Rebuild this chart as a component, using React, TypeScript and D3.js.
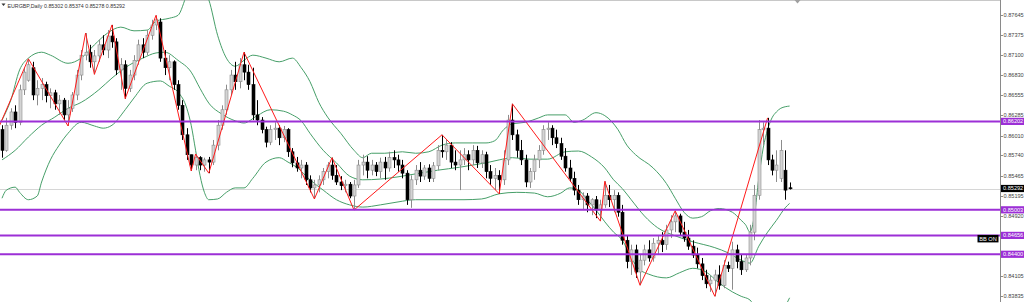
import React from "react";
import * as d3 from "d3";

const W = 1024;
const H = 302;
const PLOT_RIGHT = 1000;

// EURGBP Daily candles (oldest -> newest)
const openP = [
  0.8609, 0.8581, 0.8615, 0.8633, 0.8619, 0.8663, 0.8676, 0.8693, 0.8656, 0.8665,
  0.8670, 0.8655, 0.8659, 0.8644, 0.8649, 0.8629, 0.8638, 0.8656, 0.8683, 0.8710,
  0.8714, 0.8701, 0.8709, 0.8724, 0.8717, 0.8736, 0.8728, 0.8690, 0.8697, 0.8665,
  0.8683, 0.8703, 0.8724, 0.8714, 0.8737, 0.8751, 0.8755, 0.8706, 0.8693, 0.8701,
  0.8670, 0.8642, 0.8602, 0.8575, 0.8561, 0.8571, 0.8561, 0.8568, 0.8565, 0.8588,
  0.8615, 0.8636, 0.8663, 0.8683, 0.8674, 0.8697, 0.8687, 0.8670, 0.8629, 0.8622,
  0.8609, 0.8592, 0.8609, 0.8611, 0.8598, 0.8609, 0.8579, 0.8564, 0.8557, 0.8561,
  0.8541, 0.8530, 0.8534, 0.8541, 0.8552, 0.8561, 0.8547, 0.8538, 0.8533, 0.8535,
  0.8519, 0.8534, 0.8561, 0.8565, 0.8554, 0.8561, 0.8552, 0.8565, 0.8557, 0.8571,
  0.8568, 0.8561, 0.8550, 0.8514, 0.8541, 0.8554, 0.8546, 0.8557, 0.8543, 0.8560,
  0.8581, 0.8579, 0.8588, 0.8565, 0.8561, 0.8568, 0.8575, 0.8568, 0.8581, 0.8564,
  0.8575, 0.8552, 0.8543, 0.8547, 0.8541, 0.8568, 0.8622, 0.8602, 0.8581, 0.8568,
  0.8538, 0.8552, 0.8568, 0.8581, 0.8609, 0.8611, 0.8598, 0.8590, 0.8573, 0.8557,
  0.8543, 0.8527, 0.8514, 0.8519, 0.8507, 0.8514, 0.8500, 0.8507, 0.8520, 0.8514,
  0.8520, 0.8497, 0.8459, 0.8430, 0.8446, 0.8416, 0.8432, 0.8446, 0.8435, 0.8455,
  0.8459, 0.8453, 0.8473, 0.8484, 0.8492, 0.8470, 0.8462, 0.8451, 0.8439, 0.8427,
  0.8411, 0.8400, 0.8405, 0.8412, 0.8398, 0.8425, 0.8421, 0.8446, 0.8430, 0.8419,
  0.8435, 0.8470, 0.8520, 0.8609, 0.8611, 0.8568, 0.8554, 0.8543, 0.8554, 0.85302,
];
const highP = [
  0.8615, 0.8625, 0.8638, 0.8642, 0.8670, 0.8693, 0.8705, 0.8701, 0.8676, 0.8679,
  0.8674, 0.8665, 0.8663, 0.8656, 0.8652, 0.8649, 0.8660, 0.8690, 0.8717, 0.8740,
  0.8724, 0.8717, 0.8731, 0.8737, 0.8744, 0.8751, 0.8733, 0.8706, 0.8703, 0.8690,
  0.8710, 0.8731, 0.8733, 0.8744, 0.8758, 0.8764, 0.8760, 0.8717, 0.8710, 0.8703,
  0.8676, 0.8649, 0.8611, 0.8575, 0.8576, 0.8573, 0.8571, 0.8572, 0.8595, 0.8622,
  0.8642, 0.8670, 0.8690, 0.8701, 0.8706, 0.8714, 0.8697, 0.8693, 0.8649, 0.8626,
  0.8613, 0.8615, 0.8619, 0.8615, 0.8614, 0.8611, 0.8584, 0.8572, 0.8568, 0.8565,
  0.8547, 0.8541, 0.8547, 0.8557, 0.8565, 0.8571, 0.8561, 0.8546, 0.8541, 0.8538,
  0.8541, 0.8568, 0.8575, 0.8573, 0.8568, 0.8565, 0.8571, 0.8572, 0.8579, 0.8581,
  0.8575, 0.8568, 0.8554, 0.8547, 0.8561, 0.8565, 0.8561, 0.8562, 0.8565, 0.8588,
  0.8602, 0.8595, 0.8592, 0.8581, 0.8581, 0.8584, 0.8581, 0.8588, 0.8587, 0.8581,
  0.8579, 0.8561, 0.8557, 0.8554, 0.8581, 0.8629, 0.8644, 0.8609, 0.8595, 0.8575,
  0.8557, 0.8575, 0.8588, 0.8615, 0.8619, 0.8615, 0.8609, 0.8598, 0.8584, 0.8568,
  0.8552, 0.8534, 0.8524, 0.8523, 0.8516, 0.8519, 0.8514, 0.8539, 0.8534, 0.8527,
  0.8524, 0.8507, 0.8466, 0.8453, 0.8453, 0.8439, 0.8453, 0.8459, 0.8462, 0.8466,
  0.8470, 0.8480, 0.8493, 0.8499, 0.8495, 0.8484, 0.8473, 0.8459, 0.8449, 0.8435,
  0.8419, 0.8411, 0.8419, 0.8425, 0.8432, 0.8430, 0.8457, 0.8453, 0.8439, 0.8439,
  0.8480, 0.8534, 0.8622, 0.8619, 0.8625, 0.8575, 0.8581, 0.8595, 0.8581, 0.85374,
];
const lowP = [
  0.8571, 0.8579, 0.8609, 0.8611, 0.8615, 0.8656, 0.8674, 0.8649, 0.8642, 0.8649,
  0.8646, 0.8638, 0.8636, 0.8629, 0.8622, 0.8614, 0.8633, 0.8649, 0.8676, 0.8703,
  0.8693, 0.8684, 0.8701, 0.8710, 0.8706, 0.8720, 0.8683, 0.8663, 0.8651, 0.8660,
  0.8676, 0.8697, 0.8706, 0.8710, 0.8731, 0.8744, 0.8701, 0.8683, 0.8676, 0.8663,
  0.8636, 0.8595, 0.8568, 0.8553, 0.8554, 0.8554, 0.8552, 0.8550, 0.8561, 0.8581,
  0.8609, 0.8629, 0.8656, 0.8663, 0.8665, 0.8676, 0.8663, 0.8622, 0.8615, 0.8604,
  0.8585, 0.8588, 0.8595, 0.8588, 0.8592, 0.8572, 0.8558, 0.8552, 0.8543, 0.8534,
  0.8524, 0.8515, 0.8524, 0.8534, 0.8543, 0.8541, 0.8534, 0.8527, 0.8524, 0.8516,
  0.8500, 0.8530, 0.8547, 0.8543, 0.8547, 0.8546, 0.8543, 0.8541, 0.8552, 0.8557,
  0.8552, 0.8543, 0.8507, 0.8503, 0.8534, 0.8538, 0.8541, 0.8538, 0.8538, 0.8554,
  0.8571, 0.8568, 0.8557, 0.8554, 0.8527, 0.8561, 0.8554, 0.8561, 0.8557, 0.8557,
  0.8543, 0.8534, 0.8527, 0.8522, 0.8534, 0.8561, 0.8595, 0.8571, 0.8561, 0.8531,
  0.8530, 0.8541, 0.8557, 0.8575, 0.8595, 0.8588, 0.8584, 0.8568, 0.8552, 0.8538,
  0.8520, 0.8507, 0.8500, 0.8497, 0.8493, 0.8489, 0.8485, 0.8503, 0.8504, 0.8497,
  0.8491, 0.8453, 0.8421, 0.8412, 0.8408, 0.8398, 0.8425, 0.8430, 0.8430, 0.8439,
  0.8443, 0.8446, 0.8462, 0.8470, 0.8465, 0.8457, 0.8446, 0.8435, 0.8421, 0.8405,
  0.8394, 0.8389, 0.8383, 0.8392, 0.8394, 0.8416, 0.8392, 0.8421, 0.8412, 0.8416,
  0.8425, 0.8459, 0.8514, 0.8588, 0.8561, 0.8547, 0.8538, 0.8538, 0.8514, 0.85278,
];
const closeP = [
  0.8581, 0.8615, 0.8633, 0.8619, 0.8663, 0.8687, 0.8697, 0.8656, 0.8665, 0.8670,
  0.8655, 0.8659, 0.8644, 0.8649, 0.8629, 0.8638, 0.8656, 0.8683, 0.8710, 0.8714,
  0.8701, 0.8709, 0.8724, 0.8717, 0.8736, 0.8728, 0.8690, 0.8697, 0.8665, 0.8683,
  0.8703, 0.8724, 0.8714, 0.8737, 0.8751, 0.8758, 0.8706, 0.8693, 0.8701, 0.8670,
  0.8642, 0.8602, 0.8575, 0.8561, 0.8571, 0.8561, 0.8568, 0.8565, 0.8588, 0.8615,
  0.8636, 0.8663, 0.8683, 0.8674, 0.8697, 0.8687, 0.8670, 0.8629, 0.8622, 0.8609,
  0.8592, 0.8609, 0.8611, 0.8598, 0.8609, 0.8579, 0.8564, 0.8557, 0.8561, 0.8541,
  0.8530, 0.8534, 0.8541, 0.8552, 0.8561, 0.8547, 0.8538, 0.8533, 0.8535, 0.8519,
  0.8534, 0.8561, 0.8565, 0.8554, 0.8561, 0.8552, 0.8565, 0.8557, 0.8571, 0.8568,
  0.8561, 0.8550, 0.8514, 0.8541, 0.8554, 0.8546, 0.8557, 0.8543, 0.8560, 0.8581,
  0.8579, 0.8588, 0.8565, 0.8561, 0.8568, 0.8575, 0.8568, 0.8581, 0.8564, 0.8575,
  0.8552, 0.8543, 0.8547, 0.8541, 0.8568, 0.8622, 0.8602, 0.8581, 0.8568, 0.8538,
  0.8552, 0.8568, 0.8581, 0.8609, 0.8611, 0.8598, 0.8590, 0.8573, 0.8557, 0.8543,
  0.8527, 0.8514, 0.8519, 0.8507, 0.8514, 0.8500, 0.8507, 0.8520, 0.8514, 0.8520,
  0.8497, 0.8459, 0.8430, 0.8446, 0.8416, 0.8432, 0.8446, 0.8435, 0.8455, 0.8459,
  0.8453, 0.8473, 0.8484, 0.8492, 0.8470, 0.8462, 0.8451, 0.8439, 0.8427, 0.8411,
  0.8400, 0.8405, 0.8412, 0.8398, 0.8425, 0.8421, 0.8446, 0.8430, 0.8419, 0.8435,
  0.8470, 0.8520, 0.8609, 0.8611, 0.8568, 0.8554, 0.8561, 0.8581, 0.8527, 0.85292,
];

// Bollinger bands, read at selected bar indices
const bbUpperIdx = [0, 2, 4, 6, 9, 11, 15, 18, 21, 24, 27, 30, 33, 35, 38, 40, 42, 44, 46, 47, 49, 51, 53, 55, 57, 60, 63, 66, 68, 70, 72, 74, 77, 80, 82, 84, 87, 91, 94, 97, 100, 103, 107, 110, 112, 114, 116, 119, 122, 124, 128, 130, 132, 135, 137, 140, 142, 144, 148, 151, 153, 155, 157, 159, 161, 163, 166, 168, 169, 170, 171, 172, 173, 174, 175, 176, 177, 179];
const bbUpper = [0.8622, 0.8649, 0.8690, 0.8706, 0.8714, 0.8710, 0.8699, 0.8706, 0.8724, 0.8740, 0.8748, 0.8743, 0.8744, 0.8756, 0.8760, 0.8764, 0.8792, 0.8819, 0.8798, 0.8785, 0.8737, 0.8706, 0.8695, 0.8703, 0.8710, 0.8706, 0.8701, 0.8706, 0.8693, 0.8674, 0.8646, 0.8626, 0.8604, 0.8581, 0.8571, 0.8577, 0.8577, 0.8579, 0.8577, 0.8579, 0.8588, 0.8591, 0.8591, 0.8591, 0.8594, 0.8609, 0.8617, 0.8619, 0.8625, 0.8629, 0.8629, 0.8619, 0.8622, 0.8632, 0.8628, 0.8609, 0.8588, 0.8575, 0.8557, 0.8536, 0.8516, 0.8497, 0.8489, 0.8491, 0.8499, 0.8502, 0.8497, 0.8486, 0.8480, 0.8470, 0.8493, 0.8543, 0.8584, 0.8609, 0.8625, 0.8633, 0.8638, 0.8641];
const bbMiddleIdx = [0, 3, 6, 9, 12, 15, 18, 22, 25, 28, 32, 35, 37, 40, 43, 45, 47, 50, 53, 55, 58, 61, 64, 66, 68, 70, 73, 76, 79, 82, 86, 90, 94, 99, 104, 107, 110, 113, 116, 120, 124, 128, 131, 134, 137, 139, 141, 143, 146, 149, 153, 157, 162, 165, 168, 170, 172, 174, 176, 178, 179];
const bbMiddle = [0.8568, 0.8581, 0.8599, 0.8615, 0.8626, 0.8638, 0.8646, 0.8663, 0.8679, 0.8693, 0.8706, 0.8713, 0.8714, 0.8703, 0.8687, 0.8665, 0.8645, 0.8630, 0.8621, 0.8618, 0.8628, 0.8636, 0.8634, 0.8629, 0.8621, 0.8604, 0.8581, 0.8564, 0.8546, 0.8541, 0.8542, 0.8545, 0.8549, 0.8554, 0.8558, 0.8561, 0.8564, 0.8568, 0.8571, 0.8569, 0.8569, 0.8579, 0.8580, 0.8572, 0.8557, 0.8541, 0.8529, 0.8514, 0.8492, 0.8476, 0.8465, 0.8457, 0.8449, 0.8442, 0.8432, 0.8428, 0.8451, 0.8470, 0.8486, 0.8503, 0.8509];
const bbLowerIdx = [0, 1, 3, 4, 6, 8, 9, 11, 13, 15, 18, 21, 23, 25, 28, 30, 33, 36, 38, 40, 42, 43, 44, 45, 46, 47, 49, 51, 53, 55, 57, 60, 63, 65, 67, 70, 73, 76, 79, 82, 86, 90, 94, 100, 105, 109, 113, 117, 121, 124, 127, 129, 131, 133, 135, 137, 139, 141, 143, 145, 147, 151, 154, 157, 160, 163, 166, 168, 170, 172, 174, 176, 178, 179];
const bbLower = [0.8516, 0.8527, 0.8531, 0.8524, 0.8514, 0.8519, 0.8538, 0.8568, 0.8588, 0.8604, 0.8619, 0.8614, 0.8611, 0.8615, 0.8636, 0.8652, 0.8672, 0.8675, 0.8668, 0.8660, 0.8638, 0.8615, 0.8581, 0.8547, 0.8524, 0.8514, 0.8515, 0.8524, 0.8530, 0.8530, 0.8543, 0.8565, 0.8571, 0.8565, 0.8558, 0.8541, 0.8527, 0.8514, 0.8507, 0.8504, 0.8507, 0.8511, 0.8514, 0.8514, 0.8514, 0.8515, 0.8522, 0.8524, 0.8523, 0.8518, 0.8523, 0.8530, 0.8527, 0.8514, 0.8500, 0.8484, 0.8470, 0.8459, 0.8435, 0.8419, 0.8413, 0.8408, 0.8415, 0.8421, 0.8416, 0.8401, 0.8389, 0.8383, 0.8378, 0.8354, 0.8331, 0.8344, 0.8369, 0.8381];

// ZigZag pivots
const zigzagIdx = [-3, 6, 15, 19, 21, 25, 28, 35, 43, 44, 47, 55, 71, 75, 80, 100, 113, 116, 136, 137, 145, 153, 162, 174];
const zigzagVal = [0.8581, 0.8705, 0.8614, 0.8740, 0.8684, 0.8751, 0.8651, 0.8764, 0.8553, 0.8576, 0.8550, 0.8714, 0.8515, 0.8571, 0.8500, 0.8602, 0.8522, 0.8644, 0.8485, 0.8539, 0.8398, 0.8499, 0.8383, 0.8625];

// Horizontal levels and price axis
const levels = [0.86202, 0.85003, 0.84656, 0.844];
const levelLabels = ["0.86202", "0.85003", "0.84656", "0.84400"];
const tickValues = [0.87645, 0.87375, 0.871, 0.8683, 0.86555, 0.86285, 0.8601, 0.8574, 0.85465, 0.85195, 0.8492, 0.84105, 0.83835];
const tickLabels = ["0.87645", "0.87375", "0.87100", "0.86830", "0.86555", "0.86285", "0.86010", "0.85740", "0.85465", "0.85195", "0.84920", "0.84105", "0.83835"];
const symbolTitle = "EURGBP,Daily";
const ohlcTitle = ["0.85302", "0.85374", "0.85278", "0.85292"];
const currentPrice = 0.85292;
const currentLabel = "0.85292";

const FONT = "'Liberation Sans', Arial, sans-serif";
const PURPLE = "#9c2fd6";
const GREEN = "#479f69";

export default function App() {
  const n = openP.length;
  const x = d3.scaleLinear().domain([0, n - 1]).range([2, 789.6]);
  const y = d3.scaleLinear().domain([0.83753, 0.87848]).range([H, 0]);

  const bandPath = (idx: number[], vals: number[]) =>
    d3
      .line<number>()
      .x((_, i) => x(idx[i]))
      .y((d) => y(d))
      .curve(d3.curveMonotoneX)(vals) || "";

  const zz =
    d3
      .line<number>()
      .x((_, i) => x(zigzagIdx[i]))
      .y((d) => y(d))(zigzagVal) || "";

  const candles = openP.map((o, i) => {
    const c = closeP[i];
    const bull = c >= o;
    const cx = Math.round(x(i)) + 0.5;
    const top = y(Math.max(o, c));
    const bot = y(Math.min(o, c));
    const col = bull ? "#8c8c8c" : "#000";
    return (
      <g key={i}>
        <line x1={cx} x2={cx} y1={y(highP[i])} y2={y(lowP[i])} stroke={col} strokeWidth={1} />
        <rect
          x={cx - 1.5}
          y={top}
          width={3}
          height={Math.max(1, bot - top)}
          fill={bull ? "#d4d4d4" : "#000"}
          stroke={bull ? "#8c8c8c" : "#000"}
          strokeWidth={0.6}
        />
      </g>
    );
  });

  return (
    <svg
      width={W}
      height={H}
      style={{ position: "absolute", left: 0, top: 0, background: "#fff" }}
      fontFamily={FONT}
    >
      <defs>
        <clipPath id="plot">
          <rect x={0} y={0} width={PLOT_RIGHT} height={H} />
        </clipPath>
      </defs>
      <rect x={0} y={0} width={W} height={H} fill="#fff" />
      <line x1={0} x2={PLOT_RIGHT} y1={0.5} y2={0.5} stroke="#c8c8c8" />
      <g clipPath="url(#plot)">
        <line
          x1={0}
          x2={PLOT_RIGHT}
          y1={Math.round(y(currentPrice)) + 0.5}
          y2={Math.round(y(currentPrice)) + 0.5}
          stroke="#d6d6d6"
        />
        <path d={bandPath(bbUpperIdx, bbUpper)} fill="none" stroke={GREEN} strokeWidth={1} />
        <path d={bandPath(bbMiddleIdx, bbMiddle)} fill="none" stroke={GREEN} strokeWidth={1} />
        <path d={bandPath(bbLowerIdx, bbLower)} fill="none" stroke={GREEN} strokeWidth={1} />
        {candles}
        <path d={zz} fill="none" stroke="#ff1a1a" strokeWidth={1} />
        {levels.map((lv, i) => (
          <line key={i} x1={0} x2={PLOT_RIGHT} y1={y(lv)} y2={y(lv)} stroke={PURPLE} strokeWidth={2} />
        ))}
      </g>
      {/* chart shift marker */}
      <path d="M794.5,0 L800.5,0 L797.5,3.5 Z" fill="#a0a0a0" />

      {/* price axis */}
      <line x1={PLOT_RIGHT + 0.5} x2={PLOT_RIGHT + 0.5} y1={0} y2={H} stroke="#8a8a8a" />
      {tickValues.map((t, i) => (
        <g key={i}>
          <line x1={PLOT_RIGHT} x2={PLOT_RIGHT + 3} y1={Math.round(y(t)) + 0.5} y2={Math.round(y(t)) + 0.5} stroke="#8a8a8a" />
          <text x={PLOT_RIGHT + 3.5} y={y(t)} dy="0.35em" fontSize={5.6} fill="#444">
            {tickLabels[i]}
          </text>
        </g>
      ))}
      {levels.map((lv, i) => (
        <g key={i}>
          <rect x={PLOT_RIGHT + 1} y={y(lv) - 3.6} width={W - PLOT_RIGHT - 1} height={7.2} fill={PURPLE} />
          <text x={PLOT_RIGHT + 3} y={y(lv)} dy="0.35em" fontSize={5.6} fill="#fff">
            {levelLabels[i]}
          </text>
        </g>
      ))}
      <rect x={PLOT_RIGHT + 1} y={y(currentPrice) - 3.6} width={W - PLOT_RIGHT - 1} height={7.2} fill="#000" />
      <text x={PLOT_RIGHT + 3} y={y(currentPrice)} dy="0.35em" fontSize={5.6} fill="#fff">
        {currentLabel}
      </text>

      {/* BB ON badge */}
      <rect x={977.5} y={y(levels[2]) - 0.5} width={21} height={7.5} fill="#000" />
      <text x={988} y={y(levels[2]) + 3.3} dy="0.35em" textAnchor="middle" fontSize={5.6} fill="#fff">
        BB ON
      </text>

      {/* title */}
      <path d="M1.5,3.5 L5.5,3.5 L3.5,6 Z" fill="#333" />
      <text x={7.5} y={7.6} fontSize={5.3} fill="#333">
        {symbolTitle}
      </text>
      <text x={44} y={7.6} fontSize={5.3} fill="#333">
        {ohlcTitle.join(" ")}
      </text>
    </svg>
  );
}
